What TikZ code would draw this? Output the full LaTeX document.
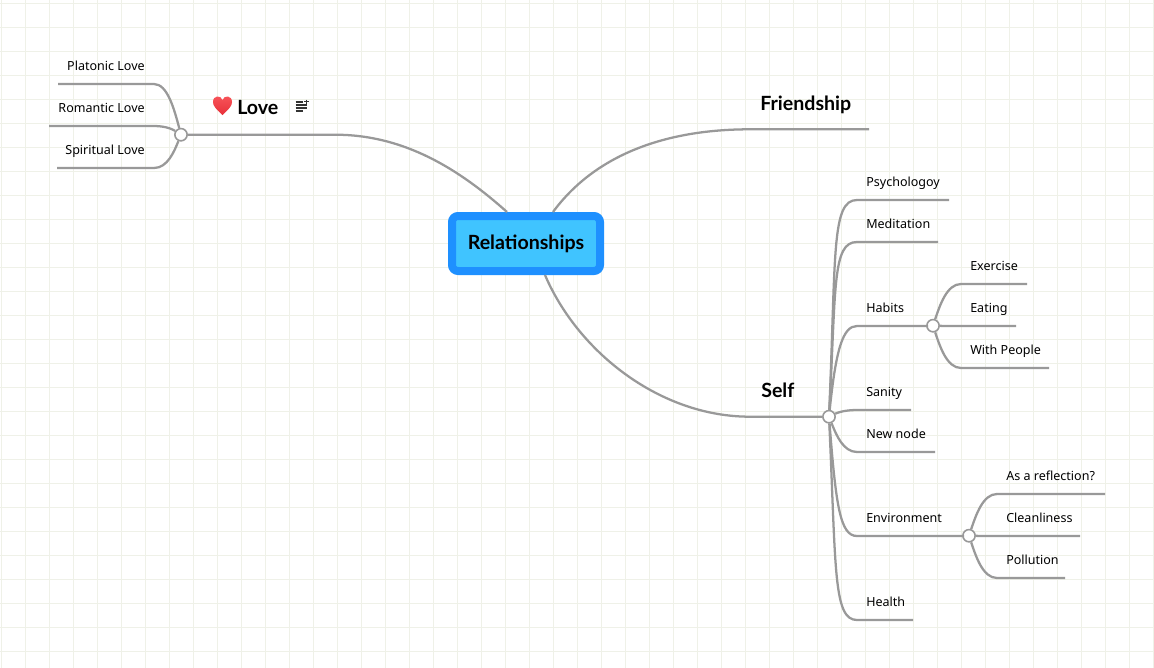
\documentclass[tikz,border=0pt]{standalone}
\usepackage{fontspec}
\usetikzlibrary{calc}
\setmainfont{Noto Sans}
\newfontfamily\headfont{Lato}
\definecolor{gridcol}{HTML}{EFF1E8}
\definecolor{linecol}{HTML}{999999}
\definecolor{rootline}{HTML}{1E90FF}
\definecolor{rootfill}{HTML}{40C4FF}
\definecolor{heartcol}{HTML}{E8303A}
\definecolor{hearttop}{HTML}{F8555A}
\definecolor{iconcol}{HTML}{333333}
\begin{document}
\begin{tikzpicture}[x=0.75pt, y=-0.75pt]
\tikzset{branch/.style={draw=linecol, line width=1.7pt}}
\tikzset{hub/.style={circle, draw=linecol, fill=white, line width=1.2pt, inner sep=0pt, minimum size=9.2pt}}
\tikzset{leaftext/.style={inner sep=0pt, font=\fontsize{9.4pt}{11pt}\selectfont, text=black}}
\tikzset{maintext/.style={inner sep=0pt, anchor=base west, font=\headfont\fontsize{14.7pt}{16pt}\selectfont\bfseries, text=black}}
\tikzset{root/.style={rectangle, rounded corners=4.5pt, draw=rootline, fill=rootfill, line width=6pt, minimum width=111pt, minimum height=41.25pt, inner sep=0pt}}

% one leaf: name, hub, bend x, end x, y, text x, anchor, text, curve shape (y/x/bend)
\newcommand{\drawleaf}[9]{
\node[leaftext, anchor=base #7] (#1) at (#6,#5-13.5) {#8};
\coordinate (#1bend) at (#3,#5);
\coordinate (#1end) at (#4,#5);
\foreach \cy/\cx/\cb in {#9} {
\coordinate (#1mid) at ($(#2.center)!\cy!(#2.center |- #1bend)$);
\draw[branch] (#2) .. controls ($(#1mid)!\cx!(#1bend |- #1mid)$) and ($(#2.center |- #1bend)!\cb!(#1bend)$) .. (#1bend) -- (#1end);
}
}

\clip (0,0) rectangle (1154,668);
\fill[white] (0,0) rectangle (1154,668);
\foreach \gx in {0,...,48} \draw[gridcol, line width=0.75pt] (1+24*\gx,0) -- (1+24*\gx,668);
\foreach \gy in {0,...,27} \draw[gridcol, line width=0.75pt] (0,3+24*\gy) -- (1154,3+24*\gy);

\node[root] (relations) at (526,243.5) {};
\node[maintext, anchor=base] (relationstext) at (526,249) {Relationships};

\node[maintext] (love) at (237,114) {Love};
\node[maintext] (friendship) at (760,110) {Friendship};
\node[maintext] (self) at (761,397) {Self};

\node[hub] (lovehub) at (181,134.7) {};
\node[hub] (selfhub) at (829,416.7) {};
\node[hub] (habitshub) at (933,325.7) {};
\node[hub] (envhub) at (969,535.7) {};

\coordinate (lovebend) at (335,134.7);
\coordinate (friendbend) at (750,129.3);
\coordinate (friendend) at (869,129.3);
\coordinate (selfbend) at (750,416.7);

\draw[branch] (lovehub) -- (lovebend) .. controls (405,134.7) and (460,170) .. ([xshift=-14.25pt]relations.north);
\draw[branch] (friendend) -- (friendbend) .. controls (665,129.3) and (595,155) .. ([xshift=20.25pt]relations.north);
\draw[branch] (selfhub) -- (selfbend) .. controls (660,416.7) and (578,352) .. ([xshift=14.25pt]relations.south);

\drawleaf{platonic}{lovehub}{154}{58}{84}{145}{east}{Platonic Love}{0.5/0.25/0.5}
\drawleaf{romantic}{lovehub}{154}{49}{126}{145}{east}{Romantic Love}{0.5/0.25/0.5}
\drawleaf{spiritual}{lovehub}{154}{57}{168}{145}{east}{Spiritual Love}{0.5/0.25/0.5}

\drawleaf{psycho}{selfhub}{857}{949}{200}{866}{west}{Psychologoy}{0.75/0.25/0.08}
\drawleaf{meditation}{selfhub}{857}{938}{242}{866}{west}{Meditation}{0.75/0.25/0.12}
\drawleaf{habits}{selfhub}{857}{928}{326}{866}{west}{Habits}{0.75/0.25/0.5}
\drawleaf{sanity}{selfhub}{857}{911}{410}{866}{west}{Sanity}{0.5/0.25/0.5}
\drawleaf{newnode}{selfhub}{857}{935}{452}{866}{west}{New node}{0.5/0.25/0.5}
\drawleaf{environment}{selfhub}{857}{964}{536}{866}{west}{Environment}{0.75/0.25/0.4}
\drawleaf{health}{selfhub}{857}{913}{620}{866}{west}{Health}{0.75/0.25/0.15}

\drawleaf{exercise}{habitshub}{961}{1027}{284}{970}{west}{Exercise}{0.5/0.25/0.5}
\drawleaf{eating}{habitshub}{961}{1016}{326}{970}{west}{Eating}{0.5/0.25/0.5}
\drawleaf{people}{habitshub}{961}{1049}{368}{970}{west}{With People}{0.5/0.25/0.5}

\drawleaf{reflection}{envhub}{997}{1105}{494}{1006}{west}{As a reflection?}{0.5/0.25/0.5}
\drawleaf{cleanliness}{envhub}{997}{1080}{536}{1006}{west}{Cleanliness}{0.5/0.25/0.5}
\drawleaf{pollution}{envhub}{997}{1065}{578}{1006}{west}{Pollution}{0.5/0.25/0.5}

% heart
\shade[top color=hearttop, bottom color=heartcol] (222.5,115) .. controls (216,109) and (213,106) .. (213,102) .. controls (213,95) and (221,95) .. (222.5,100) .. controls (224,95) and (232,95) .. (232,102) .. controls (232,106) and (229,109) .. (222.5,115) -- cycle;
% note icon
\foreach \ly/\lx in {102/303,105/307,108/307,111/303} \draw[iconcol, line width=0.8pt] (295.5,\ly) -- (\lx,\ly);
\draw[iconcol, line width=0.7pt] (306,99.5) -- (306,103.5) (304,101.5) -- (308.5,101.5);
\end{tikzpicture}
\end{document}
